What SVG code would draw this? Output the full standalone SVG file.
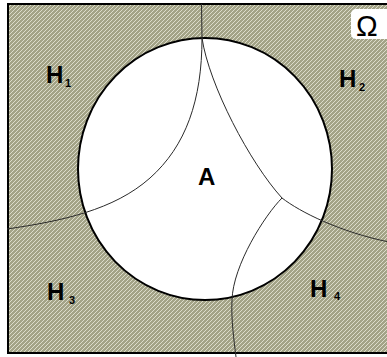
<svg xmlns="http://www.w3.org/2000/svg" width="387" height="357" viewBox="0 0 387 357">
<defs>
<pattern id="hatch" patternUnits="userSpaceOnUse" width="4" height="4">
<rect width="4" height="4" fill="#a3a387"/>
<path d="M-1,1 L1,-1 M0,4 L4,0 M3,5 L5,3" stroke="#dcdccb" stroke-width="1"/>
</pattern>
<style>
.lbl{font-family:"Liberation Sans",Arial,sans-serif;font-weight:bold;font-size:24px;fill:#000}
.sub{font-family:"Liberation Sans",Arial,sans-serif;font-weight:bold;font-size:11px;fill:#000}
.part{fill:none;stroke:#2a2a2a;stroke-width:1}
</style>
</defs>
<g id="omega-set">
<rect x="8" y="4" width="382" height="349" fill="url(#hatch)" stroke="#000" stroke-width="2"/>
<rect x="351" y="9" width="42" height="30" rx="5" fill="#fff"/>
<text x="356" y="36" font-family="Liberation Sans,Arial,sans-serif" font-size="29">Ω</text>
</g>
<g id="event-A">
<ellipse cx="205" cy="169" rx="127" ry="131" fill="#fff" stroke="#000" stroke-width="2"/>
</g>
<g id="connectors">
<path class="part" d="M201.5,4 L202,38 C202,100 186,146 150,178 S62,221 7,229"/>
<path class="part" d="M202,38 C209,85 250,163 282,198 C300,212 340,232 389,242"/>
<path class="part" d="M282,198 C265,215 233,265 232,300 C231,320 234,340 236,357"/>
</g>
<g id="H1"><text class="lbl" x="46" y="83">H</text><text class="sub" x="65" y="87">1</text></g>
<g id="H2"><text class="lbl" x="339" y="87">H</text><text class="sub" x="359" y="91">2</text></g>
<g id="H3"><text class="lbl" x="47" y="300">H</text><text class="sub" x="69" y="304">3</text></g>
<g id="H4"><text class="lbl" x="310" y="297">H</text><text class="sub" x="334" y="300">4</text></g>
<g id="A"><text class="lbl" x="198" y="185">A</text></g>
</svg>
